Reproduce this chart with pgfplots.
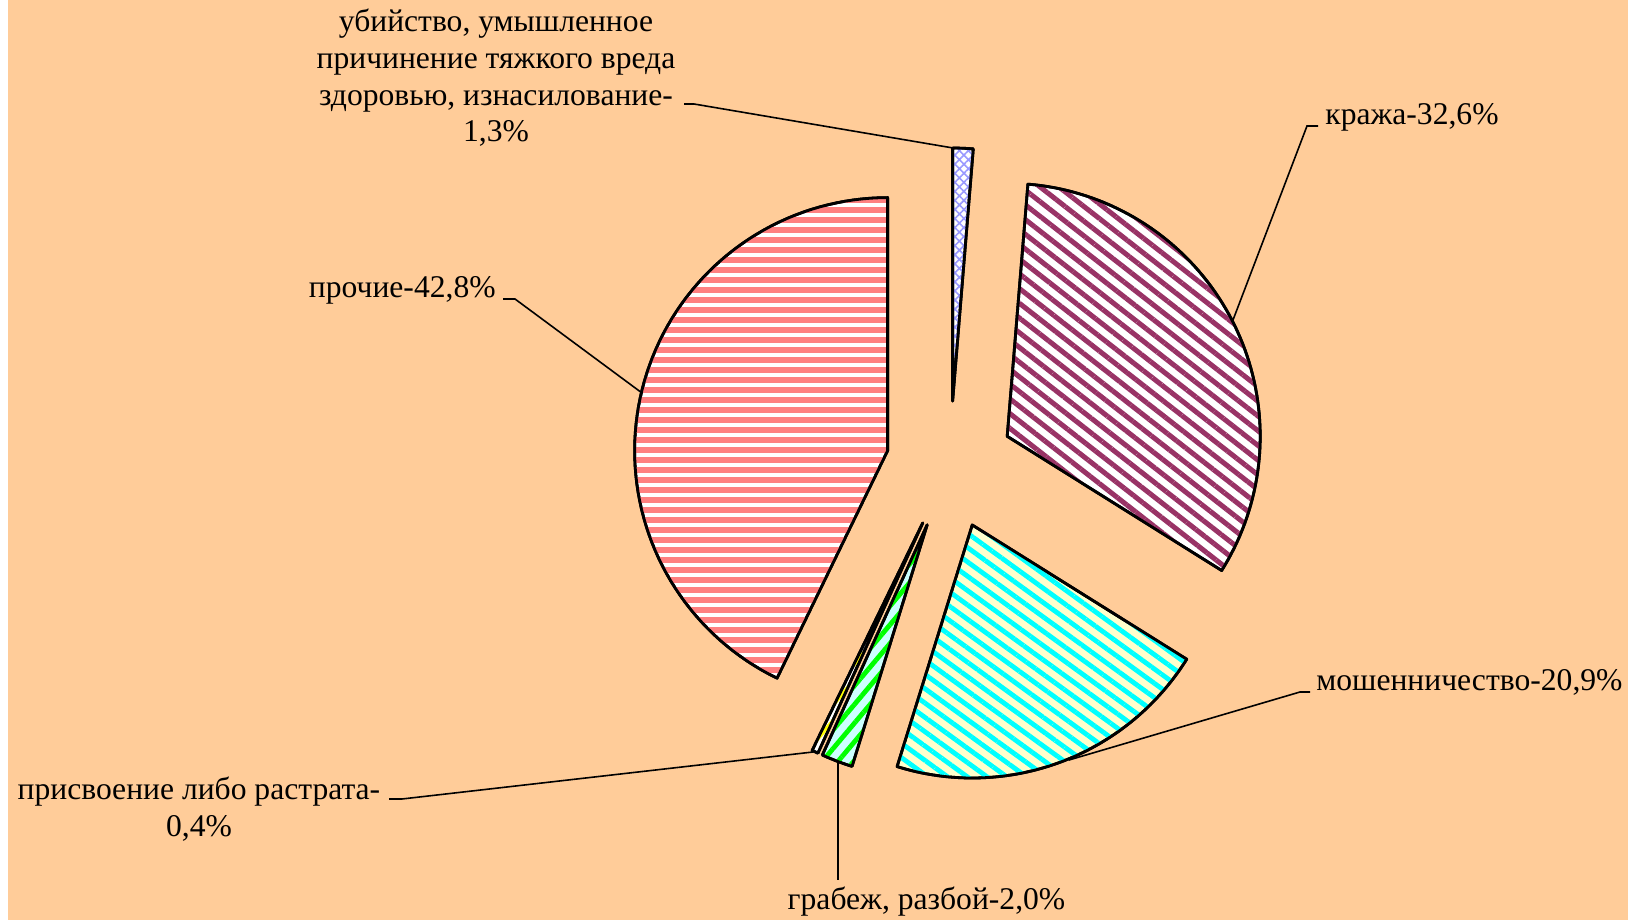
\documentclass[border=0pt]{standalone}
\usepackage{fontspec}
\setmainfont{Liberation Serif}
\usepackage{pgfplots}
\pgfplotsset{compat=1.18}
\usetikzlibrary{patterns.meta}

\definecolor{peach}{HTML}{FFCC99}
\definecolor{plum}{HTML}{993366}
\definecolor{paleyel}{HTML}{FFFFCC}
\definecolor{palecyan}{HTML}{CCFFFF}
\definecolor{salmon}{HTML}{FF8080}
\definecolor{lilac}{HTML}{9999FF}

% pie geometry (picture units = reference pixels)
\def\cx{950}
\def\cy{455}
\def\R{253}
\def\D{64}

% \slice{cumulative % before}{share %}{style}
\newcommand\slice[3]{%
  \pgfmathsetmacro\aS{90-3.6*#1}%
  \pgfmathsetmacro\aE{90-3.6*(#1+#2)}%
  \pgfmathsetmacro\aM{(\aS+\aE)/2}%
  \pgfmathsetmacro\vx{\cx+\D*cos(\aM)}%
  \pgfmathsetmacro\vy{\cy+\D*sin(\aM)}%
  \edef\doslice{\noexpand\addplot[draw=black, line width=1.4pt, line join=round,
      \unexpanded{#3}, domain=\aE:\aS, samples=80]
      ({\vx+\R*cos(x)},{\vy+\R*sin(x)}) -- (axis cs:\vx,\vy) -- cycle;}%
  \doslice
}

\begin{document}
\begin{tikzpicture}
\begin{axis}[
    width=814pt, height=460pt,
    scale only axis,
    xmin=0, xmax=1628, ymin=0, ymax=920,
    hide axis,
    clip=false,
]
\fill[white] (axis cs:0,0) rectangle (axis cs:1628,920);
\fill[peach] (axis cs:8,0) rectangle (axis cs:1628,920);

% убийство 1.3
\slice{0}{1.3}{fill=white, postaction={pattern={Hatch[angle=45,distance=3.2pt,line width=0.8pt]}, pattern color=lilac}}
% кража 32.6
\slice{1.3}{32.6}{fill=white, postaction={pattern={Lines[angle=-38,distance=5.8pt,line width=2.5pt]}, pattern color=plum}}
% мошенничество 20.9
\slice{33.9}{20.9}{fill=paleyel, postaction={pattern={Lines[angle=-36,distance=5.8pt,line width=2.4pt]}, pattern color=cyan}}
% грабеж 2.0
\slice{54.8}{2.0}{fill=palecyan, postaction={pattern={Lines[angle=50,distance=6pt,line width=2.4pt]}, pattern color=green}}
% присвоение 0.4
\slice{56.8}{0.4}{fill=white, postaction={pattern={Lines[angle=50,distance=5pt,line width=1.8pt]}, pattern color=yellow}}
% прочие 42.8
\slice{57.2}{42.8}{fill=white, postaction={pattern={Lines[angle=0,distance=5pt,line width=2.8pt]}, pattern color=salmon}}

% leader lines
\draw[line width=0.8pt] (axis cs:684,816) -- (axis cs:694,816) -- (axis cs:953,772);
\draw[line width=0.8pt] (axis cs:1318,794) -- (axis cs:1307,794) -- (axis cs:1233,600);
\draw[line width=0.8pt] (axis cs:1310,228) -- (axis cs:1300,228) -- (axis cs:1069,160);
\draw[line width=0.8pt] (axis cs:838,158) -- (axis cs:838,40);
\draw[line width=0.8pt] (axis cs:389,121) -- (axis cs:402,121) -- (axis cs:813,168);
\draw[line width=0.8pt] (axis cs:503,621) -- (axis cs:515,621) -- (axis cs:642,527);

% labels
\tikzset{lab/.style={font=\fontsize{15.8}{18.3}\selectfont, inner sep=0pt}}
\node[lab, align=center] at (axis cs:496,842)
  {убийство, умышленное\\причинение тяжкого вреда\\здоровью, изнасилование-\\1,3\%};
\node[lab, anchor=base west] at (axis cs:1325,795) {кража-32,6\%};
\node[lab, anchor=base west] at (axis cs:1316,229) {мошенничество-20,9\%};
\node[lab, anchor=base] at (axis cs:926.5,10) {грабеж, разбой-2,0\%};
\node[lab, align=center] at (axis cs:199,111) {присвоение либо растрата-\\0,4\%};
\node[lab, anchor=base east] at (axis cs:496,622) {прочие-42,8\%};
\end{axis}
\end{tikzpicture}
\end{document}
